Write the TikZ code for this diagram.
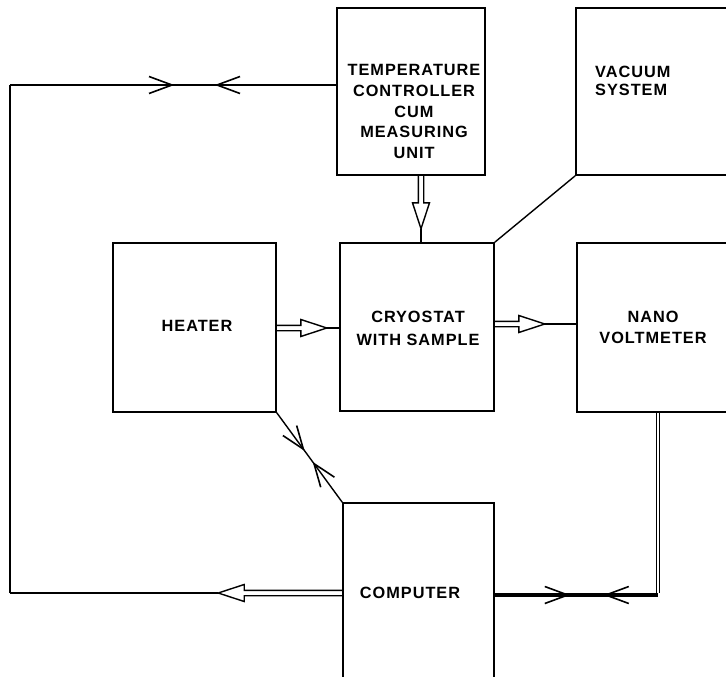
\documentclass[tikz,border=0pt]{standalone}
\usepackage{fontspec}
\newfontfamily\lblfont[LetterSpace=6]{Liberation Sans}
\usetikzlibrary{arrows.meta,decorations.markings,calc}
\newcommand\hollowarrow[5]{%
  \begin{scope}[shift={(#1)},rotate=#2]
    \draw[conn] (0,2.7) -- (#3,2.7) -- (#3,8.5) -- ({#3+26},0) -- (#3,-8.5) -- (#3,-2.7) -- (0,-2.7);
    \coordinate (#5) at ({#3+26},0);
  \end{scope}
  \draw[conn] (#5) -- (#4);}
\begin{document}
\begin{tikzpicture}[x=1pt,y=-1pt,
  box/.style={draw,line width=1.6pt,inner sep=0pt},
  conn/.style={line width=1.4pt,line join=miter},
  lbl/.style={font={\lblfont\bfseries\fontsize{16.3}{#1}\selectfont},align=center,inner sep=0pt},
  lbl/.default=21,
  fwdchev/.style={postaction={decorate,decoration={markings,mark=at position #1 with {\draw[line width=1.6pt] (-23,8.5) -- (0,0) -- (-23,-8.5);}}}},
  bwdchev/.style={postaction={decorate,decoration={markings,mark=at position #1 with {\draw[line width=1.6pt] (23,8.5) -- (0,0) -- (23,-8.5);}}}}]
\useasboundingbox (0,0) rectangle (726,677);
\clip (0,0) rectangle (726,677);
% boxes
\node[box,minimum width=148pt,minimum height=167pt] (tc) at (411,91.5) {};
\node[box,minimum width=184pt,minimum height=167pt] (vac) at (668,91.5) {};
\node[box,minimum width=163pt,minimum height=169pt] (heater) at (194.5,327.5) {};
\node[box,minimum width=154pt,minimum height=168pt] (cryo) at (417,327) {};
\node[box,minimum width=183pt,minimum height=169pt] (nano) at (668.5,327.5) {};
\node[box,minimum width=151pt,minimum height=217pt] (comp) at (418.5,611.5) {};
% labels
\node[lbl=20.75] (tctext) at (414,111.5) {TEMPERATURE\\CONTROLLER\\CUM\\MEASURING\\UNIT};
\node[lbl=18,align=left,anchor=west] (vactext) at (595,81) {VACUUM\\SYSTEM};
\node[lbl] (heatertext) at (197,326) {HEATER};
\node[lbl=23] (cryotext) at (418,328.5) {CRYOSTAT\\WITH SAMPLE};
\node[lbl=21] (nanotext) at (653,327.5) {NANO\\VOLTMETER};
\node[lbl] (comptext) at (410,593) {COMPUTER};
% hollow arrows
\coordinate (tcA) at (421,0 |- tc.south);
\coordinate (cryoA) at (421,0 |- cryo.north);
\hollowarrow{tcA}{-90}{27}{cryoA}{tip1}
\coordinate (heatA) at (heater.east |- 0,328);
\coordinate (cryoB) at (cryo.west |- 0,328);
\hollowarrow{heatA}{0}{24}{cryoB}{tip2}
\coordinate (cryoC) at (cryo.east |- 0,324);
\coordinate (nanoA) at (nano.west |- 0,324);
\hollowarrow{cryoC}{0}{24}{nanoA}{tip3}
% left loop
\coordinate (compL) at (comp.west |- 0,593);
\coordinate (cornerBL) at (10,593);
\coordinate (cornerTL) at (10,85);
\coordinate (tcL) at (tc.west |- 0,85);
\hollowarrow{compL}{180}{98}{cornerBL}{tip4}
\draw[conn] (cornerBL) -- (cornerTL);
\draw[conn,fwdchev=162pt,bwdchev=207pt] (cornerTL) -- (tcL);
% vacuum line
\draw[conn] (vac.south west) -- (cryo.north east);
% heater - computer
\draw[conn,fwdchev=45pt,bwdchev=63pt] (heater.south east) -- (comp.north west);
% computer - nano voltmeter
\coordinate (compR) at (comp.east |- 0,595);
\coordinate (cornerBR) at (658,595);
\coordinate (nanoB) at (658,0 |- nano.south);
\draw[line width=4pt,fwdchev=73pt,bwdchev=111pt] (compR) -- (cornerBR);
\draw[double,double distance=1.8pt,line width=1.3pt] ([yshift=2pt]cornerBR) -- (nanoB);
\end{tikzpicture}
\end{document}
